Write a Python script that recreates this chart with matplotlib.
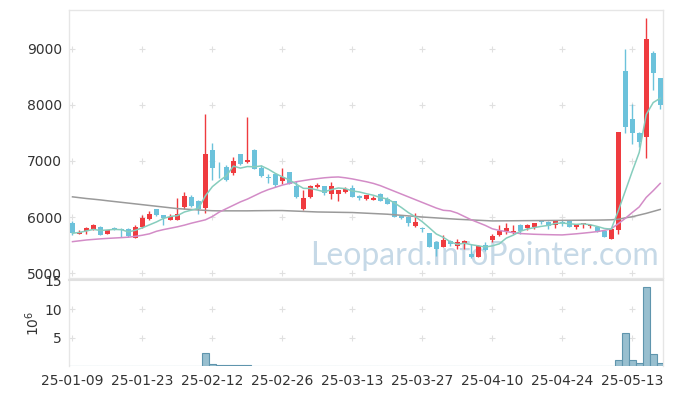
import matplotlib
matplotlib.use("Agg")
import matplotlib.pyplot as plt
import numpy as np
import pandas as pd

# ---------------- data ----------------
tick_labels = ["25-01-09", "25-01-23", "25-02-12", "25-02-26", "25-03-13",
               "25-03-27", "25-04-10", "25-04-24", "25-05-13"]

opens = [5900, 5705, 5745, 5790, 5830, 5700, 5800, 5790, 5790, 5630,
         5820, 5960, 6140, 6030, 5955, 5955, 6170, 6355, 6285, 6155,
         7195, 6900, 6895, 6780, 7125, 6990, 7200, 6880, 6720, 6770,
         6650, 6800, 6560, 6140, 6355, 6540, 6553, 6405, 6411, 6450,
         6515, 6375, 6316, 6309, 6411, 6316, 6286, 6018, 6006, 5839,
         5809, 5708, 5559, 5470, 5577, 5482, 5541, 5345, 5290, 5500,
         5589, 5684, 5756, 5720, 5851, 5809, 5816, 5925, 5910, 5857,
         5900, 5929, 5830, 5870, 5840, 5827, 5756, 5613, 5770, 8605,
         7750, 7495, 7435, 8935, 8477]
highs = [5930, 5770, 5820, 5870, 5840, 5770, 5830, 5800, 5800, 5860,
         6030, 6100, 6150, 6040, 6060, 6345, 6440, 6390, 6300, 7835,
         7325, 6975, 6930, 7065, 7130, 7790, 7210, 6920, 6770, 6790,
         6880, 6810, 6640, 6480, 6570, 6600, 6560, 6630, 6490, 6530,
         6570, 6400, 6400, 6370, 6420, 6350, 6290, 6030, 6010, 6077,
         5815, 5710, 5570, 5673, 5590, 5600, 5590, 5510, 5500, 5560,
         5700, 5857, 5887, 5850, 5870, 5870, 5900, 5950, 5920, 5950,
         5940, 5940, 5880, 5890, 5870, 5840, 5760, 5800, 7515, 8995,
         8010, 7510, 9550, 8970, 8480]
lows = [5680, 5690, 5700, 5760, 5670, 5690, 5770, 5640, 5650, 5620,
        5800, 5950, 6010, 5850, 5940, 5940, 6140, 6180, 6050, 6065,
        6660, 6690, 6650, 6750, 6920, 6970, 6850, 6720, 6600, 6530,
        6590, 6590, 6340, 6130, 6340, 6510, 6393, 6316, 6290, 6430,
        6350, 6300, 6300, 6300, 6280, 6225, 6000, 5970, 5839, 5830,
        5738, 5460, 5300, 5460, 5480, 5430, 5430, 5270, 5280, 5400,
        5560, 5660, 5700, 5700, 5700, 5770, 5780, 5880, 5790, 5800,
        5840, 5820, 5790, 5800, 5800, 5730, 5640, 5600, 5696, 7495,
        7300, 7250, 7050, 8268, 7930]
closes = [5710, 5740, 5805, 5860, 5680, 5760, 5790, 5775, 5665, 5830,
          5980, 6050, 6035, 5980, 6000, 6060, 6375, 6200, 6140, 7120,
          6880, 6885, 6660, 7000, 6940, 7020, 6860, 6740, 6705, 6565,
          6708, 6595, 6350, 6340, 6555, 6570, 6434, 6550, 6482, 6495,
          6365, 6345, 6393, 6345, 6291, 6232, 6006, 5980, 5887, 5917,
          5786, 5470, 5423, 5589, 5518, 5559, 5577, 5285, 5490, 5411,
          5661, 5756, 5798, 5756, 5756, 5857, 5887, 5910, 5840, 5934,
          5890, 5827, 5850, 5887, 5855, 5738, 5649, 5786, 7510, 7615,
          7505, 7345, 9175, 8577, 8000]
volumes = [0.03] * 19 + [2.25, 0.40, 0.20, 0.20, 0.20, 0.20, 0.20] + \
          [0.03] * 52 + [1.10, 5.80, 1.10, 0.60, 13.80, 2.10, 0.60]

ma20 = [5560, 5575, 5590, 5600, 5610, 5618, 5625, 5632, 5640, 5655,
        5675, 5700, 5745, 5775, 5800, 5825, 5855, 5890, 5920, 5950,
        6010, 6090, 6150, 6210, 6270, 6320, 6380, 6440, 6490, 6530,
        6570, 6600, 6630, 6650, 6670, 6685, 6700, 6710, 6715, 6700,
        6680, 6655, 6630, 6600, 6560, 6510, 6460, 6410, 6360, 6310,
        6260, 6210, 6160, 6120, 6110, 6070, 6010, 5950, 5900, 5850,
        5790, 5760, 5740, 5720, 5705, 5698, 5692, 5688, 5685, 5682,
        5680, 5690, 5700, 5712, 5725, 5740, 5760, 5790, 5880, 5975,
        6080, 6180, 6350, 6470, 6600]
ma60 = [6360, 6345, 6330, 6318, 6305, 6290, 6276, 6262, 6248, 6234,
        6220, 6206, 6192, 6178, 6164, 6150, 6142, 6134, 6126, 6118,
        6112, 6110, 6110, 6110, 6110, 6110, 6112, 6113, 6114, 6115,
        6115, 6110, 6105, 6100, 6095, 6090, 6088, 6086, 6084, 6082,
        6080, 6074, 6068, 6062, 6056, 6050, 6040, 6030, 6020, 6010,
        6000, 5992, 5984, 5976, 5968, 5960, 5954, 5948, 5942, 5936,
        5930, 5931, 5932, 5933, 5934, 5935, 5936, 5937, 5938, 5939,
        5940, 5941, 5942, 5943, 5944, 5945, 5947, 5950, 5960, 5985,
        6005, 6035, 6065, 6100, 6135]

# ---------------- styling ----------------
RED = "#ef3b3f"
BLUE = "#6cc2db"
MA5_C = "#86cdbd"
MA20_C = "#d38cc7"
MA60_C = "#9a9a9a"
GRID_C = "#e0e0e0"
SPINE_C = "#e6e6e6"
TXT_C = "#333333"

plt.rcParams["font.family"] = ["DejaVu Sans"]

W, H = 673, 396
fig = plt.figure(figsize=(W / 100, H / 100), dpi=100)
ax = fig.add_axes([69 / W, 1 - 278 / H, 594 / W, 268 / H])
axv = fig.add_axes([69 / W, 1 - 366 / H, 594 / W, 86 / H], sharex=ax)

o = np.array(opens, float)
h = np.array(highs, float)
l = np.array(lows, float)
c = np.array(closes, float)
x = np.arange(len(c))
cols = np.where(c >= o, RED, BLUE)

ma5 = pd.Series(c).rolling(5, min_periods=1).mean().values

# candles
ax.vlines(x, l, h, colors=cols, linewidth=1.0, zorder=3)
body_bot = np.minimum(o, c)
body_h = np.maximum(np.abs(c - o), 12)
ax.bar(x, body_h, width=0.72, bottom=body_bot, color=cols, linewidth=0, zorder=4)

# moving averages
ax.plot(x, ma60, color=MA60_C, lw=1.1, zorder=5)
ax.plot(x, ma20, color=MA20_C, lw=1.1, zorder=5)
ax.plot(x, ma5, color=MA5_C, lw=1.1, zorder=5)

ax.set_xlim(-0.5, 84.4)
ax.set_ylim(4911, 9696)
yt = [5000, 6000, 7000, 8000, 9000]
xt = np.arange(0, 81, 10)
ax.set_yticks(yt)
ax.set_yticklabels([str(v) for v in yt])
gx, gy = np.meshgrid(xt, yt)
ax.scatter(gx.ravel(), gy.ravel(), marker="+", s=22, color=GRID_C, lw=0.8, zorder=1)

# watermark
ax.text(0.699, 0.048, "Leopard.InfoPointer.com", transform=ax.transAxes,
        ha="center", va="baseline", fontsize=23, family=["Lato", "DejaVu Sans"],
        color="#bcd3e3", alpha=0.85, zorder=2)

# volume
axv.bar(x, volumes, width=1.0, color="#98bfcf", edgecolor="#5f95ad", linewidth=0.8, zorder=3)
axv.set_ylim(0, 15.1)
axv.set_yticks([5, 10, 15])
axv.set_yticklabels(["5", "10", "15"])
vgx, vgy = np.meshgrid(xt, [5, 10])
axv.scatter(vgx.ravel(), vgy.ravel(), marker="+", s=22, color=GRID_C, lw=0.8, zorder=1)
axv.set_ylabel("$10^6$", fontsize=10, color=TXT_C, labelpad=2)

axv.set_xticks(xt)
axv.set_xticklabels(tick_labels)
plt.setp(ax.get_xticklabels(), visible=False)

for a in (ax, axv):
    a.tick_params(length=0, labelsize=10, colors=TXT_C, pad=5)
    for s in a.spines.values():
        s.set_color(SPINE_C)
        s.set_linewidth(1.0)
axv.spines["bottom"].set_visible(False)
axv.spines["top"].set_color("#e0e0e0")
axv.spines["top"].set_linewidth(1.5)
axv.tick_params(axis="x", pad=6)

fig.savefig("out.png", dpi=100)
